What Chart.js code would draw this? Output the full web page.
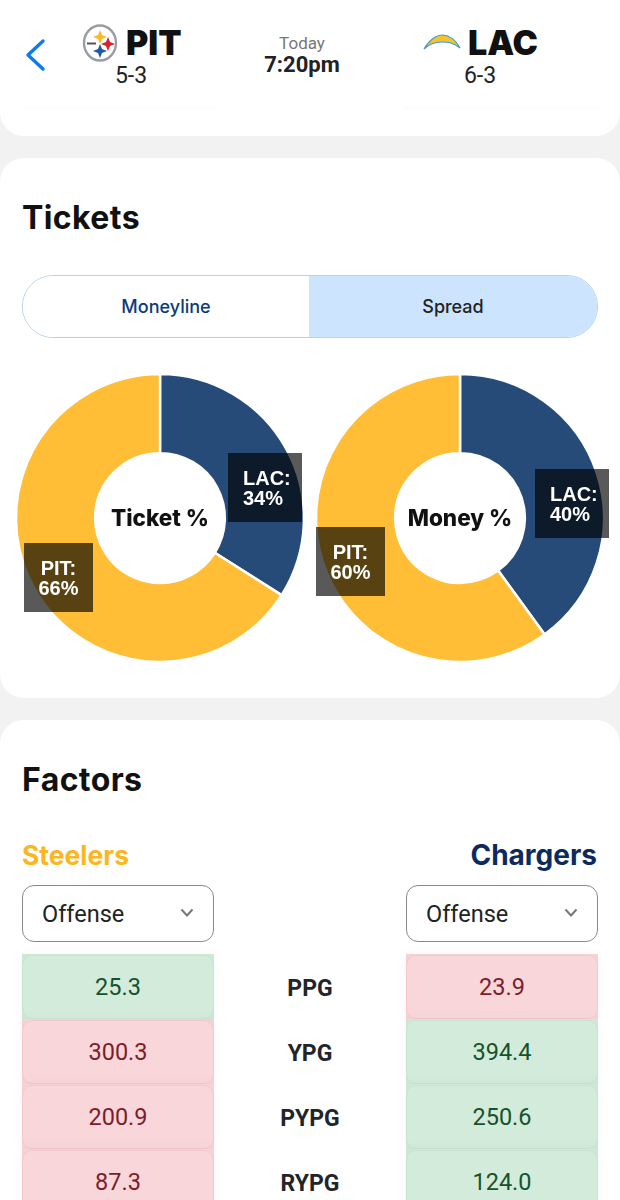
<!DOCTYPE html>
<html>
<head>
<meta charset="utf-8">
<script src="https://cdn.jsdelivr.net/npm/chart.js@4"></script>
<style>
  html, body { margin: 0; padding: 0; }
  body { width: 620px; height: 1200px; overflow: hidden; background: #f2f2f2; position: relative; font-family: Roboto, sans-serif; color: #111; }
  .abs { position: absolute; white-space: nowrap; }
  .card { position: absolute; left: 0; width: 620px; background: #fff; border-radius: 24px; }
  .title { position: absolute; left: 22px; font: 700 32px Inter, sans-serif; color: #111; letter-spacing: 0.4px; }
  .team { font: 900 34px/40px Inter, sans-serif; color: #111; }
  .record { font: 400 23px/24px Roboto, sans-serif; color: #222; width: 100px; text-align: center; }
  .tabs { position: absolute; left: 22px; top: 275px; width: 574px; height: 61px; border: 1px solid #b3d3f0; border-radius: 31px; overflow: hidden; }
  .tab { position: absolute; top: 0; height: 61px; font: 500 18px/61px Inter, sans-serif; text-align: center; }
  canvas { position: absolute; }
  .ring { position: absolute; border-radius: 50%; border: 1px solid #eeeeee; box-sizing: border-box; }
  .center { position: absolute; width: 130px; text-align: center; font: 800 22.5px/28px Inter, sans-serif; color: #111; }
  .tag { position: absolute; width: 69px; height: 69px; background: rgba(0,0,0,0.65); color: #fff; font: 700 20px/20px "Liberation Sans", sans-serif; text-align: center; display: flex; align-items: center; justify-content: center; }
  .tag.lac { width: 74px; box-sizing: border-box; padding-left: 15px; justify-content: flex-start; text-align: left; }
  .select { position: absolute; top: 885px; width: 190px; height: 55px; border: 1px solid #8a8a8a; border-radius: 12px; background: #fff; font: 400 23.5px/57px Roboto, sans-serif; color: #222; text-indent: 19px; }
  .select svg { position: absolute; right: 19px; top: 22px; }
  .rowback { position: absolute; width: 192px; height: 65px; box-shadow: 0 0 14px rgba(0,0,0,0.035); }
  .cell { position: absolute; left: 0; top: 1px; width: 190px; height: 62px; border-radius: 10px; font: 400 23.5px/63px Roboto, sans-serif; text-align: center; }
  .up { background: #d3ebdb; border: 1px solid #c9e4d3; color: #14532d; }
  .down { background: #f8d6da; border: 1px solid #f3c8ce; color: #7c1d2b; }
  .metric { position: absolute; left: 214px; width: 192px; text-align: center; font: 700 23px/28px Roboto, sans-serif; color: #212529; }
  .fade { position: absolute; top: 107px; width: 195px; height: 3px; background: #fdfdfd; }
</style>
</head>
<body>
<div class="card" style="top:-30px;height:166px"></div>
<div class="card" style="top:158px;height:540px"></div>
<div class="card" style="top:720px;height:520px"></div>
<div class="fade" style="left:22px"></div>
<div class="fade" style="left:403px"></div>

<svg class="abs" style="left:24px;top:38px" width="24" height="34" viewBox="0 0 24 34">
  <path d="M19 3 L4 17 L19 31" fill="none" stroke="#0a7cf0" stroke-width="3.4" stroke-linecap="round" stroke-linejoin="round"/>
</svg>
<svg class="abs" style="left:82px;top:24px" width="36" height="38" viewBox="0 0 36 38">
  <ellipse cx="18" cy="19" rx="16" ry="17.5" fill="#fff" stroke="#9a9ea3" stroke-width="2.4"/>
  <path d="M18 6 L20 11 L25 13 L20 15 L18 20 L16 15 L11 13 L16 11Z" fill="#fdb927"/>
  <path d="M26 13 L28 18 L33 20 L28 22 L26 27 L24 22 L19 20 L24 18Z" fill="#d3232f"/>
  <path d="M18 20 L20 25 L25 27 L20 29 L18 34 L16 29 L11 27 L16 25Z" fill="#1f5aa8"/>
  <rect x="5" y="18.5" width="9" height="2" fill="#555"/>
</svg>
<div class="abs team" style="left:126px;top:23px">PIT</div>
<div class="abs record" style="left:81px;top:64px">5-3</div>
<div class="abs" style="left:252px;top:33px;width:100px;text-align:center;font:400 17px/20px Roboto,sans-serif;color:#777">Today</div>
<div class="abs" style="left:252px;top:53px;width:100px;text-align:center;font:700 22px/24px Roboto,sans-serif;color:#222">7:20pm</div>
<svg class="abs" style="left:423px;top:32px" width="38" height="20" viewBox="0 0 38 20">
  <path d="M1 17 C8 5 16 3 19 3 C23 3 31 5 37 16 C30 10 24 10 19 10 C13 10 7 11 1 17Z" fill="#f4c430" stroke="#3d9bc9" stroke-width="1.2"/>
</svg>
<div class="abs team" style="left:468px;top:23px">LAC</div>
<div class="abs record" style="left:430px;top:64px">6-3</div>

<div class="title" style="top:198px">Tickets</div>
<div class="tabs">
  <div class="tab" style="left:0;width:286px;color:#0b3a7a;background:#fff">Moneyline</div>
  <div class="tab" style="left:286px;width:288px;color:#222;background:#cce4fd">Spread</div>
</div>

<div class="ring" style="left:15px;top:373px;width:290px;height:290px"></div>
<div class="ring" style="left:315px;top:373px;width:290px;height:290px"></div>
<canvas id="ticketChart" width="300" height="300" style="left:10px;top:368px"></canvas>
<canvas id="moneyChart" width="300" height="300" style="left:310px;top:368px"></canvas>
<div class="center" style="left:95px;top:504px">Ticket %</div>
<div class="center" style="left:395px;top:504px">Money %</div>
<div class="tag lac" style="left:228px;top:453px">LAC:<br>34%</div>
<div class="tag" style="left:24px;top:543px">PIT:<br>66%</div>
<div class="tag lac" style="left:535px;top:469px">LAC:<br>40%</div>
<div class="tag" style="left:316px;top:527px">PIT:<br>60%</div>

<div class="title" style="top:760px">Factors</div>
<div class="abs" style="left:22px;top:839px;font:700 26.5px/32px Inter,sans-serif;color:#fdb522">Steelers</div>
<div class="abs" style="right:23px;top:839px;font:700 28px/32px Inter,sans-serif;color:#0b2a5e">Chargers</div>
<div class="select" style="left:22px">Offense<svg width="14" height="10" viewBox="0 0 14 10"><path d="M1.5 1.5 L7 7.5 L12.5 1.5" fill="none" stroke="#777" stroke-width="2"/></svg></div>
<div class="select" style="left:406px">Offense<svg width="14" height="10" viewBox="0 0 14 10"><path d="M1.5 1.5 L7 7.5 L12.5 1.5" fill="none" stroke="#777" stroke-width="2"/></svg></div>
<div id="factors"></div>

<script>
const teams = ['LAC', 'PIT'];
const ticketPct = [34, 66];
const moneyPct = [40, 60];
const sliceColors = ['#264b79', '#ffbe35'];

const metrics = ['PPG', 'YPG', 'PYPG', 'RYPG'];
const steelersVals = ['25.3', '300.3', '200.9', '87.3'];
const chargersVals = ['23.9', '394.4', '250.6', '124.0'];

function drawDonut(id, values) {
  return new Chart(document.getElementById(id), {
    type: 'doughnut',
    data: {
      labels: teams,
      datasets: [{
        data: values,
        backgroundColor: sliceColors,
        borderColor: '#ffffff',
        borderWidth: 2.5,
      }],
    },
    options: {
      responsive: false,
      animation: false,
      radius: 144,
      cutout: 67,
      plugins: {
        legend: { display: false },
        tooltip: { enabled: false },
      },
    },
  });
}

drawDonut('ticketChart', ticketPct);
drawDonut('moneyChart', moneyPct);

// stat rows, green is whichever team is higher
const factors = document.getElementById('factors');
function addCell(left, top, text, isUp) {
  const back = document.createElement('div');
  back.className = 'rowback';
  back.style.left = left + 'px';
  back.style.top = top + 'px';
  back.style.background = isUp ? '#cfe7d7' : '#f6d2d7';
  const cell = document.createElement('div');
  cell.className = 'cell ' + (isUp ? 'up' : 'down');
  cell.textContent = text;
  back.appendChild(cell);
  factors.appendChild(back);
}
for (let i = 0; i < metrics.length; i++) {
  const top = 954 + i * 65;
  const pitUp = parseFloat(steelersVals[i]) > parseFloat(chargersVals[i]);
  addCell(22, top, steelersVals[i], pitUp);
  addCell(406, top, chargersVals[i], !pitUp);
  const label = document.createElement('div');
  label.className = 'metric';
  label.style.top = (top + 21) + 'px';
  label.textContent = metrics[i];
  factors.appendChild(label);
}
</script>
</body>
</html>
